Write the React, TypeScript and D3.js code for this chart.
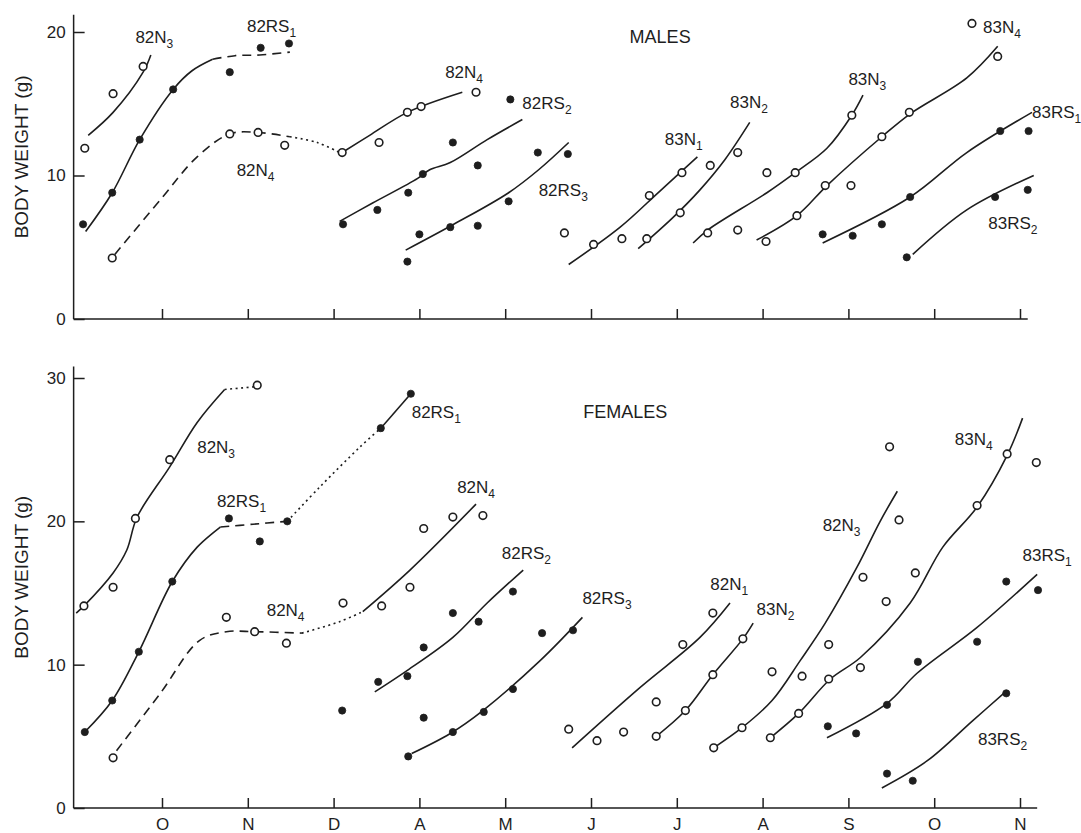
import React, { useEffect, useRef } from "react";
import * as d3 from "d3";

type P = [number, number];

// x = month position (0 = O tick ... 10 = N tick), y = body weight (g)
const months = ["O", "N", "D", "A", "M", "J", "J", "A", "S", "O", "N"];

// ---- males ----
const m82N3Pts: P[] = [[-0.9, 11.9], [-0.57, 15.7], [-0.22, 17.6]];
const m82N3Line: P[] = [[-0.86, 12.8], [-0.57, 14.4], [-0.22, 17.2], [-0.13, 18.4]];
const m82RS1Pts: P[] = [[-0.92, 6.6], [-0.58, 8.8], [-0.26, 12.5], [0.13, 16.0], [0.79, 17.2], [1.15, 18.9], [1.48, 19.2]];
const m82RS1Solid: P[] = [[-0.89, 6.1], [-0.58, 8.8], [-0.26, 12.5], [0.13, 16.0], [0.35, 17.3], [0.59, 18.1]];
const m82RS1Dash: P[] = [[0.59, 18.1], [0.85, 18.35], [1.14, 18.4], [1.49, 18.6]];
const m82N4Pts: P[] = [[-0.58, 4.25], [0.79, 12.9], [1.12, 13.0], [1.43, 12.1], [2.1, 11.6], [2.53, 12.3], [2.86, 14.4], [3.02, 14.8], [3.66, 15.8]];
const m82N4Dash: P[] = [[-0.55, 4.5], [-0.02, 8.3], [0.41, 11.3], [0.79, 12.9], [1.12, 13.0], [1.49, 12.7]];
const m82N4Dot: P[] = [[1.49, 12.7], [1.81, 12.3], [2.07, 11.6]];
const m82N4Solid: P[] = [[2.1, 11.6], [2.42, 12.8], [2.86, 14.4], [3.5, 15.8]];
const m82RS2Pts: P[] = [[2.11, 6.6], [2.51, 7.6], [2.87, 8.8], [3.04, 10.1], [3.39, 12.3], [3.68, 10.7], [4.06, 15.3]];
const m82RS2Line: P[] = [[2.07, 6.8], [2.46, 8.1], [2.98, 9.8], [3.12, 10.4], [3.36, 10.9], [3.79, 12.5], [4.2, 13.9]];
const m82RS3Pts: P[] = [[2.86, 4.0], [3.0, 5.9], [3.36, 6.4], [3.68, 6.5], [4.04, 8.2], [4.38, 11.6], [4.73, 11.5]];
const m82RS3Line: P[] = [[2.84, 4.8], [3.4, 6.6], [4.04, 8.8], [4.39, 10.4], [4.74, 12.3]];
const m83N1Pts: P[] = [[4.69, 6.0], [5.03, 5.2], [5.36, 5.6], [5.68, 8.6], [6.06, 10.2]];
const m83N1Line: P[] = [[4.74, 3.8], [5.34, 6.4], [5.8, 8.9], [6.24, 11.3]];
const m83N2Pts: P[] = [[5.65, 5.6], [6.04, 7.4], [6.39, 10.7], [6.71, 11.6]];
const m83N2Line: P[] = [[5.55, 4.9], [5.96, 7.1], [6.27, 9.0], [6.56, 11.1], [6.85, 13.7]];
const m83N3Pts: P[] = [[6.36, 6.0], [6.71, 6.2], [7.05, 10.2], [7.38, 10.2], [8.04, 14.2]];
const m83N3Line: P[] = [[6.19, 5.3], [6.36, 6.2], [7.05, 8.8], [7.38, 10.2], [7.75, 11.9], [8.04, 14.2], [8.17, 15.6]];
const m83N4Pts: P[] = [[7.04, 5.4], [7.4, 7.2], [7.73, 9.3], [8.03, 9.3], [8.39, 12.7], [8.71, 14.4], [9.74, 18.3], [9.44, 20.6]];
const m83N4Line: P[] = [[6.93, 5.5], [7.4, 7.2], [7.75, 9.3], [8.39, 12.7], [8.72, 14.3], [9.38, 16.8], [9.74, 19.0]];
const m83RS1Pts: P[] = [[7.7, 5.9], [8.05, 5.8], [8.39, 6.6], [8.72, 8.5], [9.77, 13.1], [10.1, 13.1]];
const m83RS1Line: P[] = [[7.7, 5.3], [8.72, 8.5], [9.38, 11.6], [10.14, 14.4]];
const m83RS2Pts: P[] = [[8.68, 4.3], [9.71, 8.5], [10.09, 9.0]];
const m83RS2Line: P[] = [[8.75, 4.5], [9.38, 7.6], [10.16, 10.0]];

// ---- females ----
const f82N3Pts: P[] = [[-0.91, 14.1], [-0.57, 15.4], [-0.31, 20.2], [0.09, 24.3], [1.11, 29.5]];
const f82N3Solid: P[] = [[-1.0, 13.6], [-0.91, 14.1], [-0.57, 16.4], [-0.41, 18.0], [-0.29, 20.3], [0.09, 23.8], [0.41, 26.9], [0.73, 29.2]];
const f82N3Dot: P[] = [[0.73, 29.2], [1.11, 29.4]];
const f82RS1Pts: P[] = [[-0.9, 5.3], [-0.58, 7.5], [-0.27, 10.9], [0.12, 15.8], [0.78, 20.2], [1.14, 18.6], [1.46, 20.0], [2.55, 26.5], [2.9, 28.9]];
const f82RS1Solid: P[] = [[-0.9, 5.3], [-0.58, 7.5], [-0.27, 10.9], [0.12, 15.8], [0.41, 18.2], [0.68, 19.6]];
const f82RS1Dash: P[] = [[0.68, 19.6], [1.06, 19.8], [1.46, 20.0]];
const f82RS1Dot: P[] = [[1.46, 20.0], [1.84, 22.4], [2.31, 25.2], [2.55, 26.5]];
const f82RS1End: P[] = [[2.55, 26.5], [2.9, 28.9]];
const f82N4Pts: P[] = [[-0.57, 3.5], [0.75, 13.3], [1.08, 12.3], [1.45, 11.5], [2.11, 14.3], [2.56, 14.1], [2.89, 15.4], [3.05, 19.5], [3.39, 20.3], [3.74, 20.4]];
const f82N4Dash: P[] = [[-0.53, 4.0], [-0.02, 8.0], [0.44, 11.7], [0.75, 12.3], [1.08, 12.3], [1.63, 12.2]];
const f82N4Dot: P[] = [[1.63, 12.2], [2.07, 13.0], [2.34, 13.7]];
const f82N4Solid: P[] = [[2.34, 13.7], [2.89, 16.6], [3.66, 21.2]];
const f82RS2Pts: P[] = [[2.1, 6.8], [2.52, 8.8], [2.86, 9.2], [3.05, 11.2], [3.39, 13.6], [3.69, 13.0], [4.09, 15.1]];
const f82RS2Line: P[] = [[2.48, 8.1], [2.86, 9.6], [3.39, 11.9], [3.79, 14.3], [4.21, 16.6]];
const f82RS3Pts: P[] = [[2.87, 3.6], [3.05, 6.3], [3.39, 5.3], [3.75, 6.7], [4.09, 8.3], [4.43, 12.2], [4.79, 12.4]];
const f82RS3Line: P[] = [[2.91, 3.8], [3.36, 5.2], [3.74, 6.8], [4.41, 10.3], [4.9, 13.3]];
const f82N1Pts: P[] = [[4.74, 5.5], [5.07, 4.7], [5.38, 5.3], [5.76, 7.4], [6.07, 11.4], [6.42, 13.6]];
const f82N1Line: P[] = [[4.78, 4.2], [5.57, 8.4], [6.27, 11.9], [6.62, 14.3]];
const f83N2Pts: P[] = [[5.76, 5.0], [6.1, 6.8], [6.42, 9.3], [6.77, 11.8]];
const f83N2Line: P[] = [[5.74, 4.9], [6.1, 6.8], [6.42, 9.3], [6.77, 11.8], [6.89, 12.9]];
const f82N3bPts: P[] = [[6.43, 4.2], [6.76, 5.6], [7.11, 9.5], [7.46, 9.2], [7.77, 11.4], [8.17, 16.1], [8.59, 20.1], [8.48, 25.2]];
const f82N3bLine: P[] = [[6.43, 4.2], [6.76, 5.6], [7.11, 7.5], [7.44, 10.3], [7.73, 12.9], [8.1, 16.8], [8.37, 20.0], [8.57, 22.1]];
const f83N4Pts: P[] = [[7.09, 4.9], [7.42, 6.6], [7.77, 9.0], [8.14, 9.8], [8.44, 14.4], [8.78, 16.4], [9.5, 21.1], [9.85, 24.7], [10.19, 24.1]];
const f83N4Line: P[] = [[7.09, 4.9], [7.42, 6.6], [7.79, 9.0], [8.14, 10.5], [8.72, 14.3], [9.1, 18.2], [9.5, 21.0], [9.85, 24.6], [10.03, 27.2]];
const f83RS1Pts: P[] = [[7.76, 5.7], [8.09, 5.2], [8.45, 7.2], [8.81, 10.2], [9.5, 11.6], [9.84, 15.8], [10.21, 15.2]];
const f83RS1Line: P[] = [[7.75, 4.9], [8.45, 7.3], [8.8, 9.4], [9.5, 12.6], [10.2, 16.3]];
const f83RS2Pts: P[] = [[8.45, 2.4], [8.75, 1.9], [9.84, 8.0]];
const f83RS2Line: P[] = [[8.39, 1.4], [8.92, 3.3], [9.45, 6.1], [9.85, 8.2]];

// labels: [main, subscript, x, y]
const maleLabels: [string, string, number, number][] = [
  ["82N", "3", -0.31, 19.2], ["82RS", "1", 0.99, 20.0], ["82N", "4", 0.87, 10.0],
  ["82N", "4", 3.3, 16.8], ["82RS", "2", 4.2, 14.6], ["82RS", "3", 4.39, 8.6],
  ["83N", "1", 5.86, 12.1], ["83N", "2", 6.62, 14.7], ["83N", "3", 8.0, 16.3],
  ["83N", "4", 9.57, 19.9], ["83RS", "1", 10.14, 14.0], ["83RS", "2", 9.63, 6.3],
];
const femaleLabels: [string, string, number, number][] = [
  ["82N", "3", 0.41, 24.8], ["82RS", "1", 0.64, 21.0], ["82N", "4", 1.22, 13.4],
  ["82RS", "1", 2.91, 27.2], ["82N", "4", 3.44, 22.0], ["82RS", "2", 3.96, 17.4],
  ["82RS", "3", 4.9, 14.2], ["82N", "1", 6.39, 15.2], ["83N", "2", 6.93, 13.5],
  ["82N", "3", 7.7, 19.3], ["83N", "4", 9.24, 25.3], ["83RS", "1", 10.03, 17.2],
  ["83RS", "2", 9.51, 4.4],
];

const FONT = "'Liberation Sans', Arial, Helvetica, sans-serif";
const INK = "#1e1e1e";

function drawPanel(svg, opts) {
  const x = d3.scaleLinear().domain([0, 10]).range([162, 1020]);
  const y = d3.scaleLinear().domain(opts.yDomain).range(opts.yRange);
  const g = svg.append("g");
  const x0 = -1.03;

  // axis frame
  g.append("line").attr("x1", x(x0)).attr("x2", x(x0)).attr("y1", y(0)).attr("y2", y(opts.yTop))
    .attr("stroke", INK).attr("stroke-width", 1.5);
  g.append("line").attr("x1", x(x0)).attr("x2", x(opts.xEnd)).attr("y1", y(0)).attr("y2", y(0))
    .attr("stroke", INK).attr("stroke-width", 1.5);

  const yAxis = d3.axisLeft(y).tickValues(opts.yTicks).tickSize(-11).tickPadding(8).tickFormat(d3.format("d"));
  const ya = g.append("g").attr("transform", `translate(${x(x0)},0)`).call(yAxis);
  ya.select(".domain").remove();

  const xAxis = d3.axisBottom(x).tickValues(d3.range(11)).tickSize(-10).tickPadding(10)
    .tickFormat((d) => (opts.showMonths ? months[d] : ""));
  const xa = g.append("g").attr("transform", `translate(0,${y(0)})`).call(xAxis);
  xa.select(".domain").remove();

  [ya, xa].forEach((a) => {
    a.selectAll("line").attr("stroke", INK).attr("stroke-width", 1.5);
    a.selectAll("text").attr("font-size", 17).attr("font-family", FONT).attr("fill", INK);
  });

  // y title
  g.append("text")
    .attr("transform", `translate(28,${(y(0) + y(opts.yTop)) / 2 - 10}) rotate(-90)`)
    .attr("text-anchor", "middle").attr("font-size", 19).attr("font-family", FONT).attr("fill", INK)
    .text("BODY WEIGHT (g)");

  const line = d3.line<P>().x((d) => x(d[0])).y((d) => y(d[1])).curve(d3.curveCatmullRom.alpha(0.5));
  const dashes = { solid: null, dash: "9,6", dot: "2,3.5" };
  opts.lines.forEach(([pts, style]) => {
    g.append("path").attr("d", line(pts)).attr("fill", "none").attr("stroke", INK)
      .attr("stroke-width", 1.6).attr("stroke-dasharray", dashes[style]);
  });

  opts.points.forEach(([pts, open]) => {
    g.selectAll(null).data(pts).enter().append("circle")
      .attr("cx", (d) => x(d[0])).attr("cy", (d) => y(d[1]))
      .attr("r", open ? 3.8 : 3.6)
      .attr("fill", open ? "#fff" : INK)
      .attr("stroke", INK).attr("stroke-width", open ? 1.6 : 0.8);
  });

  opts.labels.forEach(([main, sub, lx, ly]) => {
    const t = g.append("text").attr("x", x(lx)).attr("y", y(ly))
      .attr("font-size", 17).attr("font-family", FONT).attr("fill", INK);
    t.append("tspan").text(main);
    t.append("tspan").attr("dy", 5).attr("font-size", 12).text(sub);
  });

  g.append("text").attr("x", x(opts.title[1])).attr("y", y(opts.title[2]))
    .attr("font-size", 18).attr("font-family", FONT).attr("fill", INK).text(opts.title[0]);
}

export default function App() {
  const ref = useRef(null);

  useEffect(() => {
    const svg = d3.select(ref.current);
    svg.selectAll("*").remove();

    drawPanel(svg, {
      yDomain: [0, 20], yRange: [319, 32], yTop: 21.2, yTicks: [0, 10, 20], xEnd: 10.09, showMonths: false,
      title: ["MALES", 5.45, 19.2],
      labels: maleLabels,
      lines: [
        [m82N3Line, "solid"], [m82RS1Solid, "solid"], [m82RS1Dash, "dash"],
        [m82N4Dash, "dash"], [m82N4Dot, "dot"], [m82N4Solid, "solid"],
        [m82RS2Line, "solid"], [m82RS3Line, "solid"], [m83N1Line, "solid"],
        [m83N2Line, "solid"], [m83N3Line, "solid"], [m83N4Line, "solid"],
        [m83RS1Line, "solid"], [m83RS2Line, "solid"],
      ],
      points: [
        [m82N3Pts, true], [m82RS1Pts, false], [m82N4Pts, true], [m82RS2Pts, false],
        [m82RS3Pts, false], [m83N1Pts, true], [m83N2Pts, true], [m83N3Pts, true],
        [m83N4Pts, true], [m83RS1Pts, false], [m83RS2Pts, false],
      ],
    });

    drawPanel(svg, {
      yDomain: [0, 30], yRange: [808, 378], yTop: 30.8, yTicks: [0, 10, 20, 30], xEnd: 10.2, showMonths: true,
      title: ["FEMALES", 4.91, 27.2],
      labels: femaleLabels,
      lines: [
        [f82N3Solid, "solid"], [f82N3Dot, "dot"], [f82RS1Solid, "solid"], [f82RS1Dash, "dash"],
        [f82RS1Dot, "dot"], [f82RS1End, "solid"], [f82N4Dash, "dash"], [f82N4Dot, "dot"],
        [f82N4Solid, "solid"], [f82RS2Line, "solid"], [f82RS3Line, "solid"], [f82N1Line, "solid"],
        [f83N2Line, "solid"], [f82N3bLine, "solid"], [f83N4Line, "solid"], [f83RS1Line, "solid"],
        [f83RS2Line, "solid"],
      ],
      points: [
        [f82N3Pts, true], [f82RS1Pts, false], [f82N4Pts, true], [f82RS2Pts, false],
        [f82RS3Pts, false], [f82N1Pts, true], [f83N2Pts, true], [f82N3bPts, true],
        [f83N4Pts, true], [f83RS1Pts, false], [f83RS2Pts, false],
      ],
    });
  }, []);

  return (
    <svg ref={ref} width={1081} height={833}
      style={{ position: "absolute", left: 0, top: 0, background: "#fff", display: "block" }} />
  );
}
